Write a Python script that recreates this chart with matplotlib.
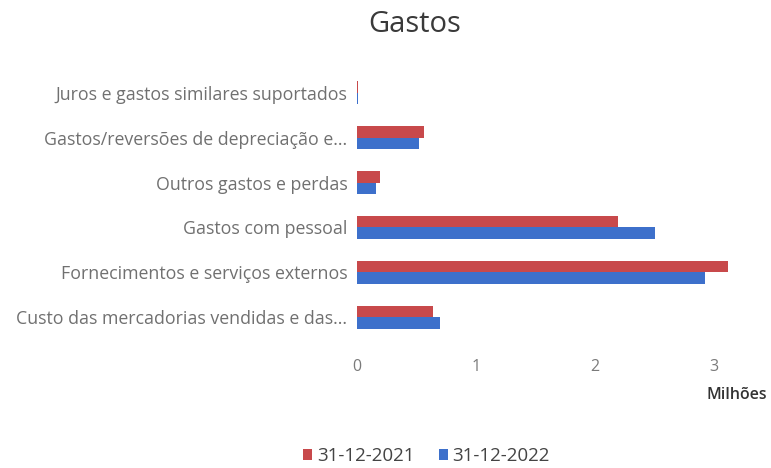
import matplotlib.pyplot as plt
import numpy as np

plt.rcParams["font.family"] = ["Open Sans", "DejaVu Sans"]

categories = [
    "Custo das mercadorias vendidas e das...",
    "Fornecimentos e serviços externos",
    "Gastos com pessoal",
    "Outros gastos e perdas",
    "Gastos/reversões de depreciação e...",
    "Juros e gastos similares suportados",
]
val_2021 = [0.64, 3.12, 2.19, 0.19, 0.56, 0.006]
val_2022 = [0.70, 2.92, 2.50, 0.16, 0.52, 0.006]
series_labels = ["31-12-2021", "31-12-2022"]
xticks = [0, 1, 2, 3]

RED = "#C8494B"
BLUE = "#3D70CB"

fig = plt.figure(figsize=(7.71, 4.68), dpi=100)
ax = fig.add_axes([0.463, 0.274, 0.525, 0.576])

y = np.arange(len(categories))
h = 0.25
ax.barh(y + h / 2, val_2021, height=h, color=RED, label=series_labels[0])
ax.barh(y - h / 2, val_2022, height=h, color=BLUE, label=series_labels[1])

ax.set_ylim(-0.5, len(categories) - 0.5)
ax.set_xlim(0, 3.4)
ax.set_yticks(y)
ax.set_yticklabels(categories, fontsize=12.8, color="#707070")
ax.set_xticks(xticks)
ax.set_xticklabels([str(t) for t in xticks], fontsize=11.5, color="#7a7a7a")
ax.tick_params(length=0, pad=7)
ax.tick_params(axis="x", pad=14)
for s in ax.spines.values():
    s.set_visible(False)

fig.text(0.538, 0.947, "Gastos", ha="center", va="center", fontsize=21, color="#3a3a3a")
fig.text(0.955, 0.157, "Milhões", ha="center", va="center", fontsize=11.5,
         color="#333333", fontweight="semibold")

fig.legend(loc="center", bbox_to_anchor=(0.553, 0.025), ncol=2, frameon=False,
           fontsize=13.5, handlelength=0.5, handleheight=0.5, handletextpad=0.25,
           columnspacing=1.3, labelcolor="#444444")

fig.savefig("out.png", dpi=100)
